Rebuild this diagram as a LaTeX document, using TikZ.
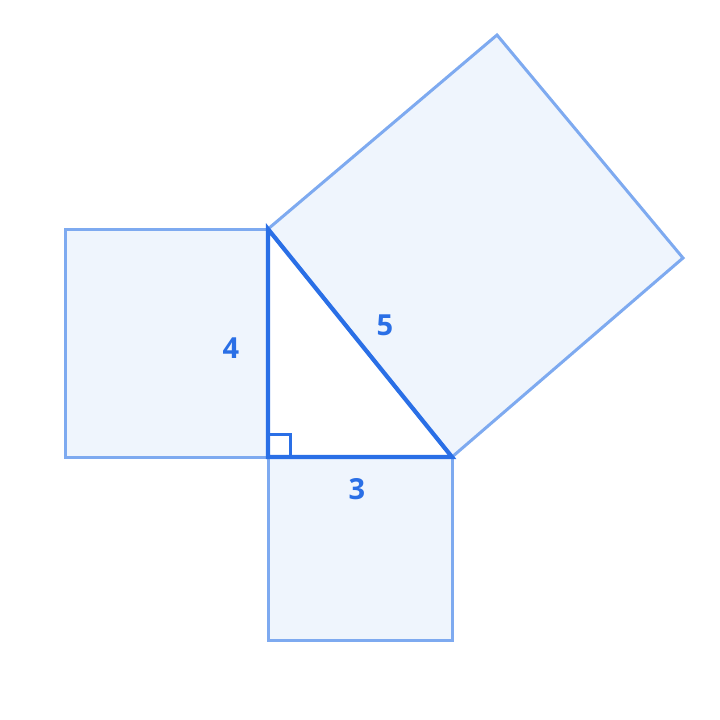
\documentclass[tikz,border=0pt]{standalone}
\usepackage{fontspec}
\setmainfont{Open Sans}
\usepackage{tikz}

\definecolor{lato}{HTML}{2A6FE6}
\definecolor{bordo}{HTML}{7EAAF0}
\definecolor{riemp}{HTML}{EFF5FD}

\begin{document}
\begin{tikzpicture}[x=1pt,y=-1pt,
    quadrato/.style={draw=bordo,fill=riemp,line width=3pt,line join=miter},
    cateto/.style={draw=lato,line width=4.2pt,line join=miter,line cap=round},
    misura/.style={text=lato,font=\fontsize{29}{31}\selectfont\bfseries,inner sep=0pt}]
            \useasboundingbox (0,0) rectangle (720,720);
            %vertici
            \coordinate (C) at (268,457);
            \coordinate (A) at (268,229);
            \coordinate (B) at (452,457);
            %quadrati
            \draw[quadrato] (A) -- (C) -- (65,457) -- (65,229) -- cycle;
            \draw[quadrato] (C) -- (B) -- (452,640) -- (268,640) -- cycle;
            \draw[quadrato] (A) -- (497,35) -- (683,258) -- (B) -- cycle;
            %triangolo
            \draw[cateto] (A) -- (C) -- (B) -- cycle;
            \draw[draw=lato,line width=3pt] (268,434) -- (290,434) -- (290,457);
            %etichette
            \node[misura] (l4) at (231,348) {4};
            \node[misura] (l5) at (385,325) {5};
            \node[misura] (l3) at (357,489) {3};
        \end{tikzpicture}
\end{document}
